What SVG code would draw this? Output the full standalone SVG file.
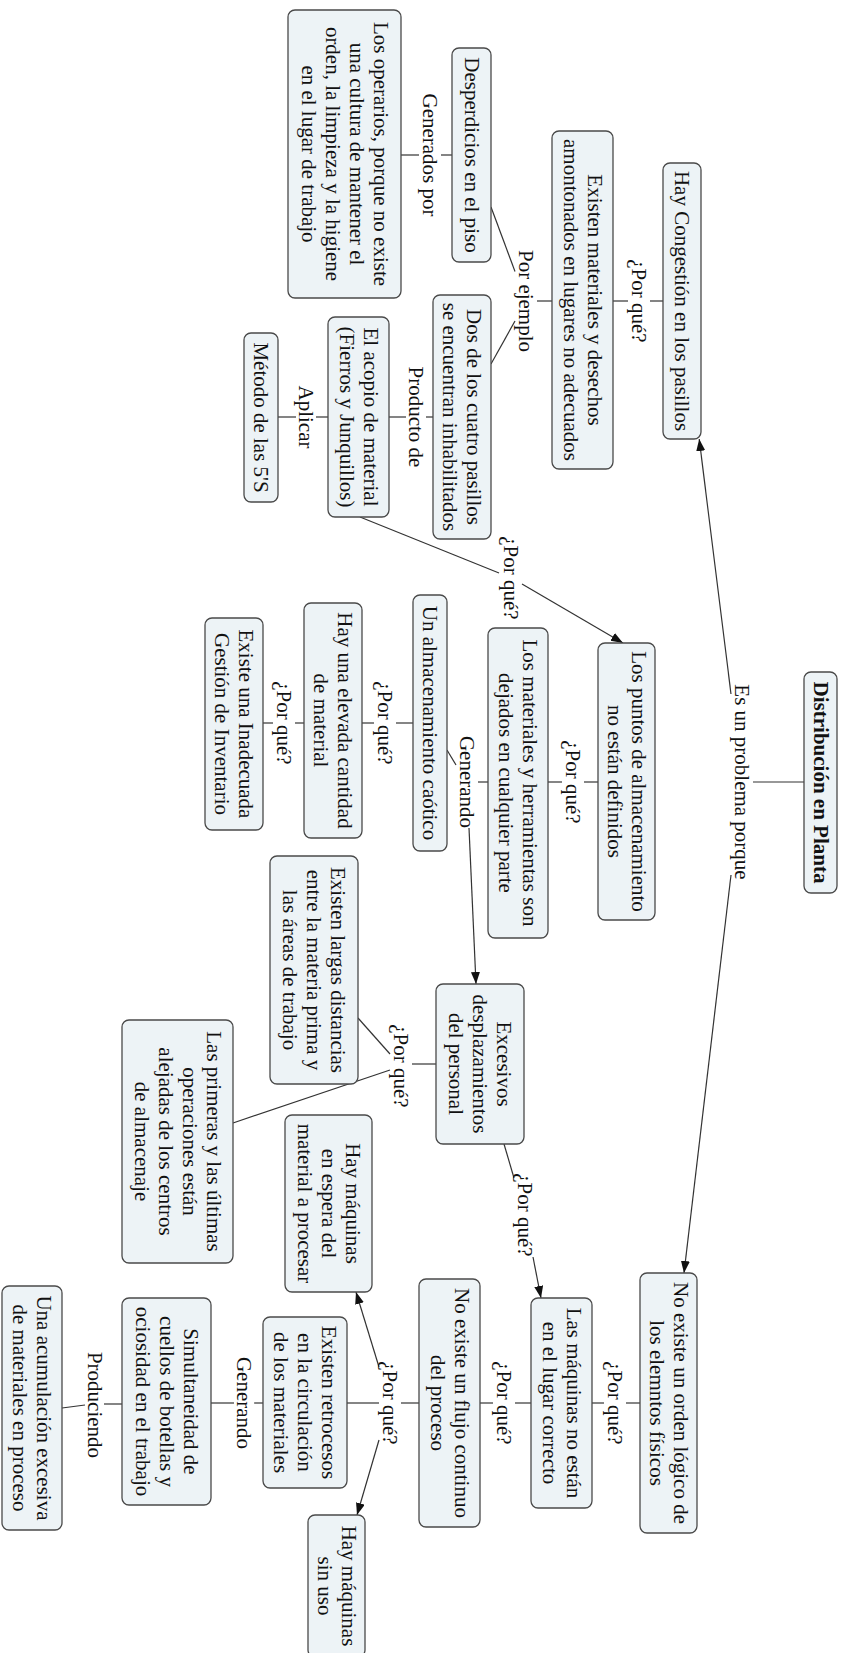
<svg xmlns="http://www.w3.org/2000/svg" width="842" height="1653" viewBox="0 0 842 1653">
<defs>
<style>
.n rect{fill:#edf3f6;stroke:#4a4a4a;stroke-width:1.3}
text{font-family:"Liberation Serif","Times New Roman",serif;font-size:21px;fill:#111;text-anchor:middle}
.b{font-weight:bold}
.c path{stroke:#333;stroke-width:1.2;fill:none}
.c path.a{marker-end:url(#arr)}
</style>
<marker id="arr" markerUnits="userSpaceOnUse" markerWidth="13" markerHeight="10" refX="12" refY="4.5" orient="auto">
<path d="M0,0 L12,4.5 L0,9 z" fill="#111"/>
</marker>
</defs>
<rect width="842" height="1653" fill="#fff"/>
<g transform="translate(842,0) rotate(90)">
<g id="connectors" class="c">
<path d="M782 38V89"/>
<path class="a" d="M694 111L439 142.8"/>
<path class="a" d="M875 111L1273 158"/>
<path d="M301 179V192"/>
<path d="M301 214V229"/>
<path d="M301 290V305"/>
<path d="M271.5 327L207 351"/>
<path d="M321 327L364 351"/>
<path d="M155 390V401"/>
<path d="M155 423V441"/>
<path d="M417 409V416"/>
<path d="M417 436V453"/>
<path d="M417 514V526"/>
<path d="M417 546V564"/>
<path d="M517 482L573 343"/>
<path class="a" d="M584 320L643 219"/>
<path d="M782 244V258"/>
<path d="M782 280V294"/>
<path d="M782 354V364"/>
<path d="M765 386L750 395"/>
<path class="a" d="M828 373L984 366"/>
<path d="M723 429V446"/>
<path d="M723 468V480"/>
<path d="M723 538V547"/>
<path d="M723 569V579"/>
<path d="M1064 406V430"/>
<path d="M1054 452L1018 484"/>
<path d="M1070 452L1123 609"/>
<path d="M1144 338L1178 328"/>
<path class="a" d="M1257 309L1298 301"/>
<path d="M1403 202V216"/>
<path d="M1403 238V250"/>
<path d="M1403 311V327"/>
<path d="M1403 349V362"/>
<path d="M1403 423V441"/>
<path d="M1403 463V495"/>
<path class="a" d="M1367 463L1292 486"/>
<path class="a" d="M1440 463L1515 485"/>
<path d="M1403 579V588"/>
<path d="M1403 608V631"/>
<path d="M1404 720V738"/>
<path d="M1405 757L1408 780"/>
</g>
<g id="labels">
<text x="782" y="107">Es un problema porque</text>
<text x="301" y="210">¿Por qué?</text>
<text x="301" y="323">Por ejemplo</text>
<text x="155" y="419">Generados por</text>
<text x="417" y="433">Producto de</text>
<text x="417" y="543">Aplicar</text>
<text x="578" y="338">¿Por qué?</text>
<text x="782" y="276">¿Por qué?</text>
<text x="782" y="382">Generando</text>
<text x="723" y="464">¿Por qué?</text>
<text x="723" y="565">¿Por qué?</text>
<text x="1066" y="448">¿Por qué?</text>
<text x="1215" y="324">¿Por qué?</text>
<text x="1403" y="234">¿Por qué?</text>
<text x="1403" y="345">¿Por qué?</text>
<text x="1403" y="459">¿Por qué?</text>
<text x="1403" y="605">Generando</text>
<text x="1405" y="754">Produciendo</text>
</g>
<g id="root" class="n"><rect x="672" y="5" width="221" height="33" rx="7"/><text class="b" x="782.5" y="28.5">Distribución en Planta</text></g>
<g id="hay_congestion" class="n"><rect x="163" y="141" width="276" height="38" rx="7"/><text x="301" y="167">Hay Congestión en los pasillos</text></g>
<g id="existen_materiales" class="n"><rect x="131" y="229" width="338" height="61" rx="7"/><text x="300" y="254.5">Existen materiales y desechos</text><text x="300" y="278.5">amontonados en lugares no adecuados</text></g>
<g id="desperdicios" class="n"><rect x="48" y="351" width="214" height="39" rx="7"/><text x="155" y="377.5">Desperdicios en el piso</text></g>
<g id="dos_de_los" class="n"><rect x="295" y="351" width="244" height="58" rx="7"/><text x="417" y="375">Dos de los cuatro pasillos</text><text x="417" y="399">se encuentran inhabilitados</text></g>
<g id="operarios" class="n"><rect x="10" y="441" width="288" height="113" rx="7"/><text x="154" y="468.5">Los operarios, porque no existe</text><text x="154" y="492.5">una cultura de mantener el</text><text x="154" y="516.5">orden, la limpieza y la higiene</text><text x="154" y="540.5">en el lugar de trabajo</text></g>
<g id="acopio" class="n"><rect x="317" y="453" width="200" height="61" rx="7"/><text x="417" y="478.5">El acopio de material</text><text x="417" y="502.5">(Fierros y Junquillos)</text></g>
<g id="metodo" class="n"><rect x="333" y="564" width="169" height="34" rx="7"/><text x="417.5" y="588">Método de las 5'S</text></g>
<g id="los_puntos" class="n"><rect x="643" y="187" width="277" height="57" rx="7"/><text x="781.5" y="210.5">Los puntos de almacenamiento</text><text x="781.5" y="234.5">no están definidos</text></g>
<g id="los_materiales" class="n"><rect x="628" y="294" width="310" height="60" rx="7"/><text x="783" y="319">Los materiales y herramientas son</text><text x="783" y="343">dejados en cualquier parte</text></g>
<g id="almacenamiento" class="n"><rect x="595" y="395" width="256" height="34" rx="7"/><text x="723" y="419">Un almacenamiento caótico</text></g>
<g id="elevada" class="n"><rect x="603" y="480" width="235" height="58" rx="7"/><text x="720.5" y="504">Hay una elevada cantidad</text><text x="720.5" y="528">de material</text></g>
<g id="inadecuada" class="n"><rect x="618" y="579" width="212" height="58" rx="7"/><text x="724" y="603">Existe una Inadecuada</text><text x="724" y="627">Gestión de Inventario</text></g>
<g id="excesivos" class="n"><rect x="984" y="318" width="160" height="88" rx="7"/><text x="1064" y="345">Excesivos</text><text x="1064" y="369">desplazamientos</text><text x="1064" y="393">del personal</text></g>
<g id="largas" class="n"><rect x="856" y="484" width="228" height="88" rx="7"/><text x="970" y="511">Existen largas distancias</text><text x="970" y="535">entre la materia prima y</text><text x="970" y="559">las áreas de trabajo</text></g>
<g id="primeras" class="n"><rect x="1020" y="609" width="243" height="111" rx="7"/><text x="1141.5" y="635.5">Las primeras y las últimas</text><text x="1141.5" y="659.5">operaciones están</text><text x="1141.5" y="683.5">alejadas de los centros</text><text x="1141.5" y="707.5">de almacenaje</text></g>
<g id="no_orden" class="n"><rect x="1273" y="145" width="260" height="57" rx="7"/><text x="1403" y="168.5">No existe un orden lógico de</text><text x="1403" y="192.5">los elemntos físicos</text></g>
<g id="las_maquinas" class="n"><rect x="1298" y="250" width="210" height="61" rx="7"/><text x="1403" y="275.5">Las máquinas no están</text><text x="1403" y="299.5">en el lugar correcto</text></g>
<g id="no_flujo" class="n"><rect x="1279" y="362" width="248" height="61" rx="7"/><text x="1403" y="387.5">No existe un flujo continuo</text><text x="1403" y="411.5">del proceso</text></g>
<g id="espera" class="n"><rect x="1115" y="470" width="177" height="87" rx="7"/><text x="1203.5" y="496.5">Hay máquinas</text><text x="1203.5" y="520.5">en espera del</text><text x="1203.5" y="544.5">material a procesar</text></g>
<g id="retrocesos" class="n"><rect x="1317" y="495" width="171" height="84" rx="7"/><text x="1402.5" y="520">Existen retrocesos</text><text x="1402.5" y="544">en la circulación</text><text x="1402.5" y="568">de los materiales</text></g>
<g id="sin_uso" class="n"><rect x="1515" y="477" width="142" height="57" rx="7"/><text x="1586" y="500.5">Hay máquinas</text><text x="1586" y="524.5">sin uso</text></g>
<g id="simultaneidad" class="n"><rect x="1298" y="631" width="207" height="89" rx="7"/><text x="1401.5" y="658.5">Simultaneidad de</text><text x="1401.5" y="682.5">cuellos de botellas y</text><text x="1401.5" y="706.5">ociosidad en el trabajo</text></g>
<g id="acumulacion" class="n"><rect x="1286" y="780" width="244" height="60" rx="7"/><text x="1408" y="805">Una acumulación excesiva</text><text x="1408" y="829">de materiales en proceso</text></g>
</g>
</svg>
